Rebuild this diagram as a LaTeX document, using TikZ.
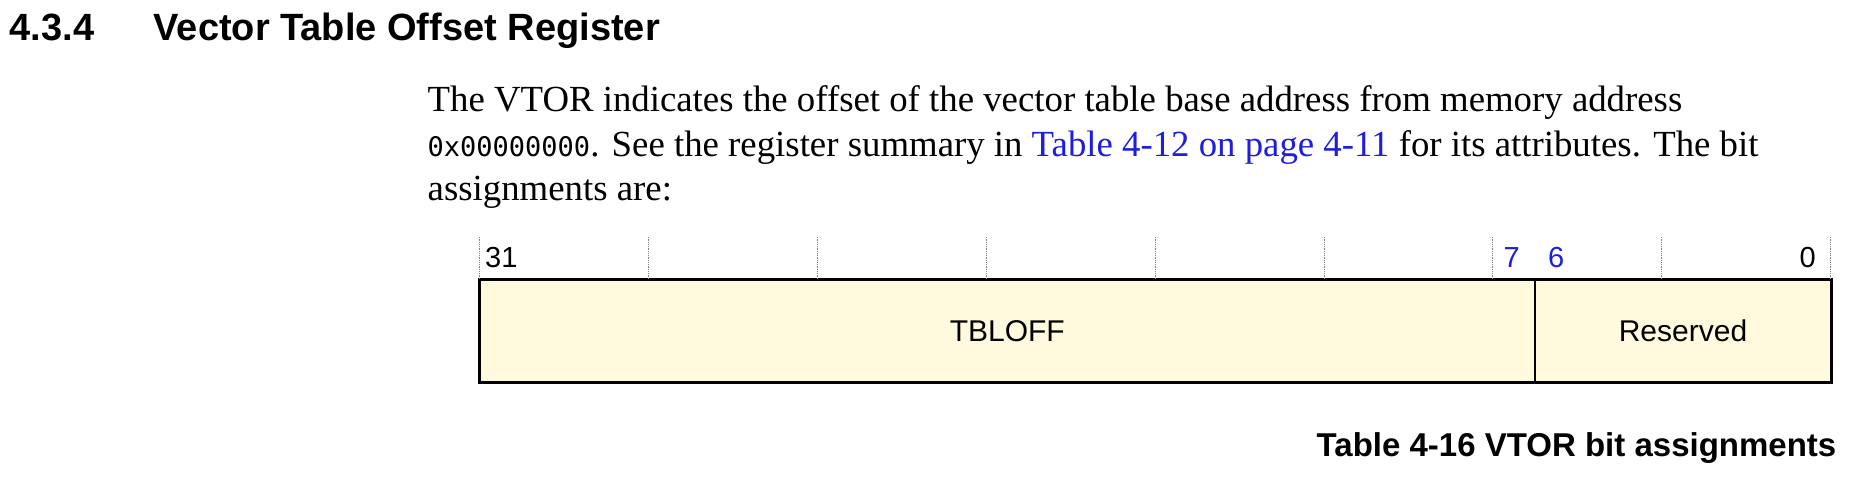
\documentclass[tikz,border=0pt]{standalone}
\usepackage{fontspec}
\setmainfont{Liberation Serif}
\setsansfont{Liberation Sans}
\setmonofont{DejaVu Sans Mono}
\usetikzlibrary{positioning}
\definecolor{linkblue}{RGB}{30,30,220}
\definecolor{regfill}{RGB}{255,250,221}

\tikzset{
  head/.style={font=\sffamily\bfseries\fontsize{38}{38}\selectfont, anchor=base west, inner sep=0},
  capt/.style={font=\sffamily\bfseries\fontsize{33}{33}\selectfont, anchor=base east, inner sep=0},
  body/.style={font=\fontsize{36.8}{36.8}\selectfont, anchor=base west, inner sep=0},
  bitnum/.style={font=\sffamily\fontsize{29}{29}\selectfont, inner sep=0},
  field/.style={draw, line width=2pt, fill=regfill, minimum height=103.6pt, inner sep=0, outer sep=0,
    anchor=north west, font=\sffamily\fontsize{30}{30}\selectfont},
  bittick/.style={densely dotted, gray, line width=0.8pt}
}

\begin{document}
\begin{tikzpicture}[x=1pt,y=-1pt]
\useasboundingbox (0,0) rectangle (1852,480);
% heading
\node[head] (secnum) at (9.5,40) {4.3.4};
\node[head] (sectitle) at (153.5,40) {Vector Table Offset Register};
% text
\node[body] (line1) at (427.5,111) {The VTOR indicates the offset of the vector table base address from memory address};
\node[body] (line2) at (427.5,156) {{\ttfamily\fontsize{27}{27}\selectfont 0x00000000}. See the register summary in \textcolor{linkblue}{Table 4-12 on page 4-11} for its attributes. The bit};
\node[body] (line3) at (427.5,200) {assignments are:};
% register
\node[field, minimum width=1055.5pt] (tbloff) at (479.5,279) {TBLOFF};
\node[field, minimum width=296pt] (resv) at (tbloff.north east) {Reserved};
\draw[line width=3pt] (tbloff.north west) rectangle (resv.south east);
\foreach \k in {0,...,8}
  \draw[bittick] ([xshift=\k*168.89pt]tbloff.north west) -- ++(0,-43);
\node[bitnum, anchor=base west] (b31) at (485,267) {31};
\node[bitnum, anchor=base east, text=linkblue] (b7) at (1520,267) {7};
\node[bitnum, anchor=base west, text=linkblue] (b6) at (1548,267) {6};
\node[bitnum, anchor=base east] (b0) at (1816,267) {0};
% caption
\node[capt] (caption) at (1836.5,456) {Table 4-16 VTOR bit assignments};
\end{tikzpicture}
\end{document}
